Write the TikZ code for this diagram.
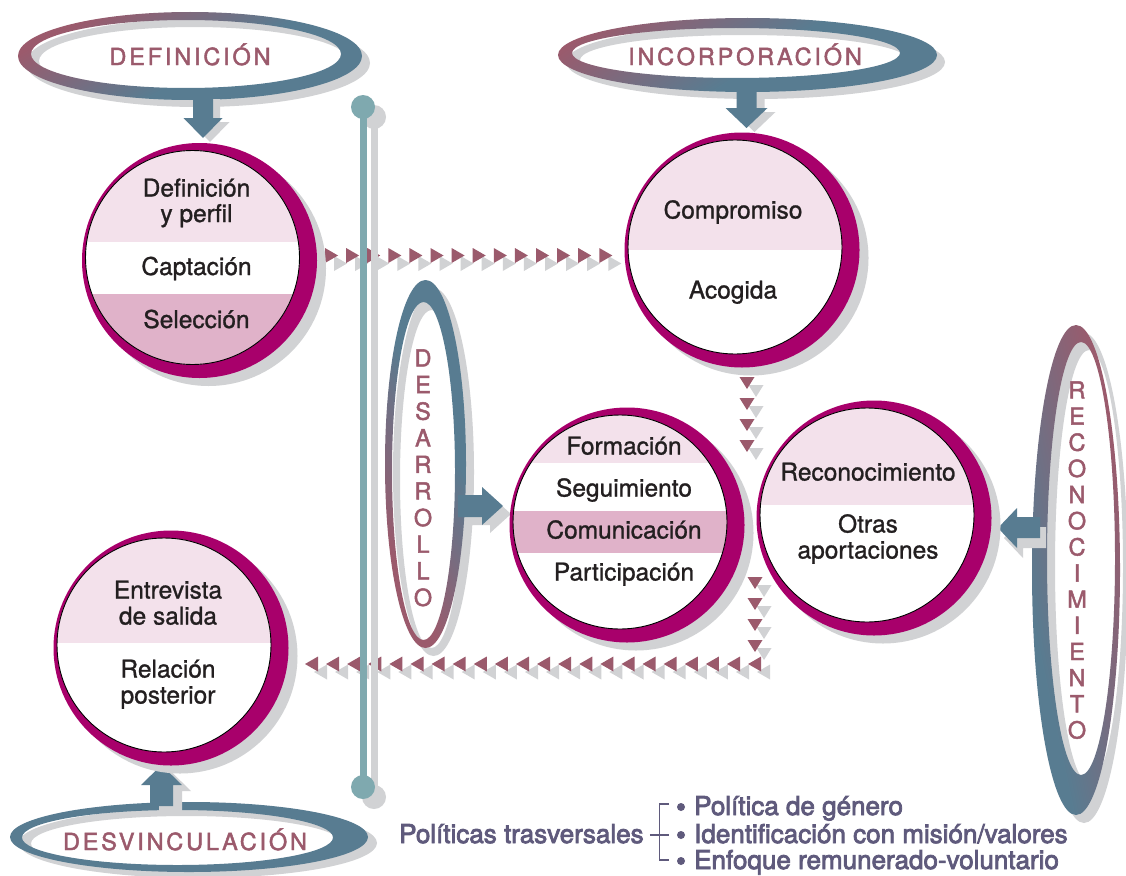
\documentclass[tikz,border=0pt]{standalone}
\usepackage{fontspec}
\setmainfont{TeX Gyre Heros}
\newfontfamily\circfont[FakeBold=1.1]{TeX Gyre Heros}
\newfontfamily\ringfont[LetterSpace=12,FakeBold=2]{TeX Gyre Heros}
\newfontfamily\vfont[FakeBold=2]{TeX Gyre Heros}
\newfontfamily\polfont[FakeBold=3]{TeX Gyre Heros}
\definecolor{maroonc}{HTML}{9B5A6C}
\definecolor{bluec}{HTML}{587C91}
\definecolor{magc}{HTML}{A8006B}
\definecolor{pinkA}{HTML}{F3E1EB}
\definecolor{pinkB}{HTML}{E0B2C9}
\definecolor{tealc}{HTML}{7FA9AF}
\definecolor{shadc}{HTML}{D1D2D4}
\definecolor{txtc}{HTML}{231F20}
\definecolor{polc}{HTML}{5F5A7C}
\pgfdeclarehorizontalshading{swoosh}{100bp}{color(0bp)=(maroonc); color(45bp)=(maroonc); color(55bp)=(bluec); color(100bp)=(bluec)}
\tikzset{
  ctext/.style={anchor=base, font=\circfont\fontsize{24.5}{26}\selectfont, text=txtc, inner sep=0pt},
  rtext/.style={anchor=base, font=\ringfont\fontsize{23.5}{25}\selectfont, text=maroonc, inner sep=0pt},
  vtext/.style={anchor=base, font=\vfont\fontsize{23.5}{25}\selectfont, text=maroonc, inner sep=0pt},
  ptext/.style={anchor=base west, font=\polfont\fontsize{26}{28}\selectfont, text=polc, inner sep=0pt},
  shad/.style={fill=shadc},
  tri/.style={fill=maroonc},
  blockarrow/.style={fill=bluec},
  inner circle/.style={draw=black, line width=0.9pt},
  bracketline/.style={draw=polc, line width=1.6pt},
}
\newcommand\circshell[2]{%
  \fill[shadc] ({#1+16},{#2+11}) circle (117.5);
  \fill[magc] ({#1+7},{#2+3}) circle (117.5);
  \fill[white] (#1,#2) circle (107);
}
\begin{document}
\begin{tikzpicture}[x=1pt,y=-1pt]
\useasboundingbox (0,0) rectangle (1126,875);
\fill[white] (0,0) rectangle (1126,875);

% ---------- rings ----------
% DEFINICION
\fill[shadc, even odd rule] (198,63) ellipse [x radius=172, y radius=44] (194,61) ellipse [x radius=155, y radius=34];
\begin{scope}[even odd rule]
  \clip (190,56) ellipse [x radius=172, y radius=44] (186,54) ellipse [x radius=155, y radius=34];
  \shade[shading=swoosh, shading angle=-62] (-130,-194) rectangle (370,306);
\end{scope}
\node[rtext] (def) at (190,65) {DEFINICIÓN};

% INCORPORACION
\fill[shadc, even odd rule] (755.5,62) ellipse [x radius=189.5, y radius=37] (744,60) ellipse [x radius=164, y radius=25];
\begin{scope}[even odd rule]
  \clip (747.5,55) ellipse [x radius=189.5, y radius=37] (736,53) ellipse [x radius=164, y radius=25];
  \shade[shading=swoosh, shading angle=-57] (360,-245) rectangle (960,355);
\end{scope}
\node[rtext] (inc) at (745,65) {INCORPORACIÓN};

% DESARROLLO
\fill[shadc, even odd rule] (433.5,472) ellipse [x radius=40.5, y radius=184] (431.5,479) ellipse [x radius=31.5, y radius=169];
\begin{scope}[even odd rule]
  \clip (425.5,464) ellipse [x radius=40.5, y radius=184] (423.5,471) ellipse [x radius=31.5, y radius=169];
  \shade[shading=swoosh, shading angle=27] (176,260) rectangle (676,760);
\end{scope}
\foreach \l [count=\i from 0] in {D,E,S,A,R,R,O,L,L,O}
  \node[vtext] (des\i) at (423,{366.5+26.6*\i}) {\l};

% RECONOCIMIENTO
\fill[shadc, even odd rule] (1084,578) ellipse [x radius=44, y radius=245] (1089,566.5) ellipse [x radius=34, y radius=216.5];
\begin{scope}[even odd rule]
  \clip (1076,570) ellipse [x radius=44, y radius=245] (1081,558.5) ellipse [x radius=34, y radius=216.5];
  \shade[shading=swoosh, shading angle=-168] (779,255) rectangle (1379,855);
\end{scope}
\foreach \l [count=\i from 0] in {R,E,C,O,N,O,C,I,M,I,E,N,T,O}
  \node[vtext] (rec\i) at (1077,{398.5+26.15*\i}) {\l};

% DESVINCULACION
\fill[shadc, even odd rule] (198,843) ellipse [x radius=179, y radius=35] (186.5,843.5) ellipse [x radius=155.5, y radius=27.5];
\fill[bluec, even odd rule] (189,837) ellipse [x radius=179, y radius=35] (177.5,837.5) ellipse [x radius=155.5, y radius=27.5];
\node[rtext] (desv) at (185,850) {DESVINCULACIÓN};

% ---------- block arrows ----------
\fill[shad, shift={(7,4)}] (193,95) -- (213,95) -- (213,118) -- (222.5,118) -- (203,138) -- (183.5,118) -- (193,118) -- cycle;
\fill[blockarrow] (193,95) -- (213,95) -- (213,118) -- (222.5,118) -- (203,138) -- (183.5,118) -- (193,118) -- cycle;

\fill[shad, shift={(8,4)}] (736.5,88) -- (756.5,88) -- (756.5,108) -- (767.5,108) -- (746.5,128) -- (725.5,108) -- (736.5,108) -- cycle;
\fill[blockarrow] (736.5,88) -- (756.5,88) -- (756.5,108) -- (767.5,108) -- (746.5,128) -- (725.5,108) -- (736.5,108) -- cycle;

\fill[shad, shift={(9,6)}] (150,806) -- (173,806) -- (173,785) -- (182,785) -- (161.5,765) -- (141,785) -- (150,785) -- cycle;
\fill[blockarrow] (150,806) -- (173,806) -- (173,785) -- (182,785) -- (161.5,765) -- (141,785) -- (150,785) -- cycle;

\fill[shad, shift={(8,8)}] (458,495) -- (482,495) -- (482,487) -- (503,506) -- (482,525) -- (482,517) -- (458,517) -- cycle;
\fill[blockarrow] (458,495) -- (482,495) -- (482,487) -- (503,506) -- (482,525) -- (482,517) -- (458,517) -- cycle;

\fill[shad, shift={(6,10)}] (1040,517) -- (1017,517) -- (1017,508) -- (998,528) -- (1017,548) -- (1017,538) -- (1040,538) -- cycle;
\fill[blockarrow] (1040,517) -- (1017,517) -- (1017,508) -- (998,528) -- (1017,548) -- (1017,538) -- (1040,538) -- cycle;

% ---------- triangle chains ----------
\foreach \i in {0,...,13}
  \fill[shad] ({325+21.1*\i+9},256) -- ++(13,7.5) -- ++(-13,7.5) -- cycle;
\foreach \i in {0,...,13}
  \fill[tri] ({325+21.1*\i},248) -- ++(13,7.5) -- ++(-13,7.5) -- cycle;

\foreach \t in {377,398,419,440}
  \fill[shad] (748.5,{\t+8}) -- ++(15,0) -- ++(-7.5,12) -- cycle;
\foreach \t in {377,398,419,440}
  \fill[tri] (739.5,\t) -- ++(15,0) -- ++(-7.5,12) -- cycle;

\foreach \t in {577,598,619,640}
  \fill[shad] (756.5,{\t+8}) -- ++(15,0) -- ++(-7.5,12) -- cycle;
\foreach \i in {0,...,21}
  \fill[shad] ({305+21.1*\i+9},672) -- ++(13,-7.5) -- ++(0,15) -- cycle;
\foreach \t in {577,598,619,640}
  \fill[tri] (747.5,\t) -- ++(15,0) -- ++(-7.5,12) -- cycle;
\foreach \i in {0,...,21}
  \fill[tri] ({305+21.1*\i},664) -- ++(13,-7.5) -- ++(0,15) -- cycle;

% ---------- pole ----------
\coordinate (poletop) at (363,107);
\coordinate (polebot) at (363,787);
\draw[shadc, line width=7pt] ([shift={(11,10)}]poletop) -- ([shift={(11,10)}]polebot);
\fill[shadc] ([shift={(11,10)}]poletop) circle (12);
\fill[shadc] ([shift={(11,10)}]polebot) circle (12);
\draw[tealc, line width=7pt] (poletop) -- (polebot);
\fill[tealc] (poletop) circle (12);
\fill[tealc] (polebot) circle (12);

% ---------- circles ----------
% circle 1
\circshell{192.5}{257.5}
\begin{scope}
  \clip (192.5,257.5) circle (107);
  \fill[pinkA] (80,145) rectangle (305,242);
  \fill[pinkB] (80,294) rectangle (305,370);
\end{scope}
\draw[inner circle] (192.5,257.5) circle (107);
\node[ctext] (c1a) at (196.5,196.5) {Definición};
\node[ctext] (c1b) at (196.5,222) {y perfil};
\node[ctext] (c1c) at (196.5,275) {Captación};
\node[ctext] (c1d) at (196.5,328) {Selección};

% circle 2
\circshell{735}{247}
\begin{scope}
  \clip (735,247) circle (107);
  \fill[pinkA] (620,135) rectangle (850,250);
\end{scope}
\draw[inner circle] (735,247) circle (107);
\node[ctext] (c2a) at (733,218.5) {Compromiso};
\node[ctext] (c2b) at (733,298.5) {Acogida};

% circle 3
\circshell{620}{522}
\begin{scope}
  \clip (620,522) circle (107);
  \fill[pinkA] (505,410) rectangle (735,463);
  \fill[pinkB] (505,511) rectangle (735,553);
\end{scope}
\draw[inner circle] (620,522) circle (107);
\node[ctext] (c3a) at (624,454.5) {Formación};
\node[ctext] (c3b) at (624,496.5) {Seguimiento};
\node[ctext] (c3c) at (624,538.5) {Comunicación};
\node[ctext] (c3d) at (624,580.5) {Participación};

% circle 4
\circshell{867}{515}
\begin{scope}
  \clip (867,515) circle (107);
  \fill[pinkA] (755,400) rectangle (980,505);
\end{scope}
\draw[inner circle] (867,515) circle (107);
\node[ctext] (c4a) at (868,480.5) {Reconocimiento};
\node[ctext] (c4b) at (868,532.5) {Otras};
\node[ctext] (c4c) at (868,558.5) {aportaciones};

% circle 5
\circshell{164}{645}
\begin{scope}
  \clip (164,645) circle (107);
  \fill[pinkA] (50,530) rectangle (280,643);
\end{scope}
\draw[inner circle] (164,645) circle (107);
\node[ctext] (c5a) at (168,598.5) {Entrevista};
\node[ctext] (c5b) at (168,624.5) {de salida};
\node[ctext] (c5c) at (168,677.5) {Relación};
\node[ctext] (c5d) at (168,703.5) {posterior};

% ---------- transversal policies ----------
\node[ptext] (pol) at (399,843) {Políticas trasversales};
\node[ptext] (p1) at (694,815) {Política de género};
\node[ptext] (p2) at (694,843) {Identificación con misión/valores};
\node[ptext] (p3) at (694,869) {Enfoque remunerado-voluntario};
\coordinate (bt) at (669,804);
\coordinate (bm) at (669,835);
\coordinate (bb) at (669,860);
\draw[bracketline] (bt) -- (659.5,804) -- (659.5,860) -- (bb);
\draw[bracketline] ([xshift=6pt]pol.east |- bm) -- (bm);
\fill[polc] (681,807) circle (4);
\fill[polc] (681,835) circle (4);
\fill[polc] (681,861) circle (4);
\end{tikzpicture}
\end{document}
